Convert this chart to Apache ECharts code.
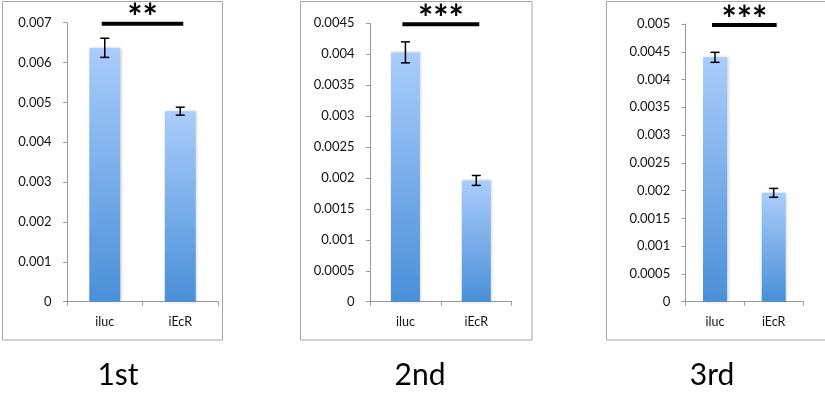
<!DOCTYPE html>
<html>
<head>
<meta charset="utf-8">
<script src="https://cdn.jsdelivr.net/npm/echarts@6/dist/echarts.min.js"></script>
<style>
  html, body { margin: 0; padding: 0; background: #ffffff; }
  #chart { width: 825px; height: 395px; }
</style>
</head>
<body>
<div id="chart"></div>
<script>
// Categories shared by all three experiments
const categories = ['iluc', 'iEcR'];

// Mean values and error (half-height of error bar) per experiment
const run1Means = [0.00637, 0.00478];
const run1Errors = [0.00024, 0.00010];
const run2Means = [0.00403, 0.00196];
const run2Errors = [0.00017, 0.00008];
const run3Means = [0.00440, 0.00196];
const run3Errors = [0.00009, 0.00008];

// Y-axis range per experiment
const axisMax = [0.007, 0.0045, 0.005];
const axisInterval = [0.001, 0.0005, 0.0005];

// Significance marks and panel captions
const significance = ['**', '***', '***'];
const captions = ['1st', '2nd', '3rd'];

const means = [run1Means, run2Means, run3Means];
const errors = [run1Errors, run2Errors, run3Errors];

const FONT = 'Lato, "Open Sans", sans-serif';

// Panel layout: plot area and surrounding frame
const grids = [
  { left: 67, top: 22.7, width: 151, height: 279 },
  { left: 370, top: 23.3, width: 141.7, height: 278.4 },
  { left: 685.7, top: 24, width: 117.3, height: 277.7 }
];
const frames = [
  { x: 2.5, y: 1.5, w: 220, h: 338.5 },
  { x: 300.5, y: 1.5, w: 231.5, h: 338.5 },
  { x: 606.5, y: 1.5, w: 240, h: 338.5 }
];
const captionPos = [[118, 375], [420, 375], [712, 375]];

const barGradient = new echarts.graphic.LinearGradient(0, 0, 0, 1, [
  { offset: 0, color: '#aacdfb' },
  { offset: 1, color: '#4a8fd8' }
]);

const xAxes = [], yAxes = [], series = [];

for (let i = 0; i < 3; i++) {
  xAxes.push({
    type: 'category',
    gridIndex: i,
    data: categories,
    boundaryGap: true,
    axisLine: { lineStyle: { color: '#9a9a9a', width: 1 } },
    axisTick: { show: true, length: 4, alignWithLabel: false, lineStyle: { color: '#9a9a9a' } },
    axisLabel: { color: '#111', fontSize: 12.5, fontFamily: FONT, margin: 14 },
    splitLine: { show: false }
  });
  yAxes.push({
    type: 'value',
    gridIndex: i,
    min: 0,
    max: axisMax[i],
    interval: axisInterval[i],
    axisLine: { show: true, lineStyle: { color: '#9a9a9a', width: 1 } },
    axisTick: { show: true, length: 4, lineStyle: { color: '#9a9a9a' } },
    axisLabel: { color: '#111', fontSize: 13, fontFamily: FONT, margin: 15.5 },
    splitLine: { show: false }
  });

  series.push({
    type: 'bar',
    xAxisIndex: i,
    yAxisIndex: i,
    data: means[i],
    barWidth: '41%',
    itemStyle: {
      color: barGradient,
      shadowColor: 'rgba(0,0,0,0.18)',
      shadowBlur: 3,
      shadowOffsetX: 1.5,
      shadowOffsetY: 0
    },
    silent: true
  });

  // Error bars: vertical whisker with caps
  series.push({
    type: 'custom',
    xAxisIndex: i,
    yAxisIndex: i,
    data: means[i].map((m, k) => [k, m, errors[i][k]]),
    renderItem: function (params, api) {
      const x = api.value(0), m = api.value(1), e = api.value(2);
      const top = api.coord([x, m + e]);
      const bot = api.coord([x, m - e]);
      const cap = 4.5;
      const style = { stroke: '#000', lineWidth: 1.5 };
      return {
        type: 'group',
        children: [
          { type: 'line', shape: { x1: top[0], y1: top[1], x2: bot[0], y2: bot[1] }, style },
          { type: 'line', shape: { x1: top[0] - cap, y1: top[1], x2: top[0] + cap, y2: top[1] }, style },
          { type: 'line', shape: { x1: bot[0] - cap, y1: bot[1], x2: bot[0] + cap, y2: bot[1] }, style }
        ]
      };
    },
    z: 5,
    silent: true
  });

  // Significance bracket between the two categories
  series.push({
    type: 'custom',
    xAxisIndex: i,
    yAxisIndex: i,
    data: [[0, 1, axisMax[i]]],
    encode: { x: [0, 1], y: 2 },
    clip: false,
    renderItem: (function (panel) {
      return function (params, api) {
        const yv = api.value(2);
        const a = api.coord([api.value(0), yv]);
        const b = api.coord([api.value(1), yv]);
        const y = a[1] + 1;
        return {
          type: 'group',
          children: [
            { type: 'line', shape: { x1: a[0] - 3, y1: y, x2: b[0] + 3, y2: y },
              style: { stroke: '#000', lineWidth: 4 } },
            { type: 'text', x: (a[0] + b[0]) / 2, y: y + 13,
              style: { text: significance[panel], fill: '#000',
                       font: 'bold 36px ' + FONT, textAlign: 'center', textVerticalAlign: 'bottom' } }
          ]
        };
      };
    })(i),
    z: 6,
    silent: true
  });
}

const graphics = [];
frames.forEach(f => {
  graphics.push({
    type: 'rect',
    shape: { x: f.x, y: f.y, width: f.w, height: f.h },
    style: { fill: 'none', stroke: '#a6a6a6', lineWidth: 1 },
    z: -1,
    silent: true
  });
});
captions.forEach((c, i) => {
  graphics.push({
    type: 'text',
    x: captionPos[i][0],
    y: captionPos[i][1],
    style: { text: c, fill: '#000', font: '30px ' + FONT, textAlign: 'center', textVerticalAlign: 'middle' },
    silent: true
  });
});

const chart = echarts.init(document.getElementById('chart'), null, { renderer: 'canvas' });
chart.setOption({
  animation: false,
  backgroundColor: '#ffffff',
  grid: grids,
  xAxis: xAxes,
  yAxis: yAxes,
  series: series,
  graphic: graphics
});
</script>
</body>
</html>
